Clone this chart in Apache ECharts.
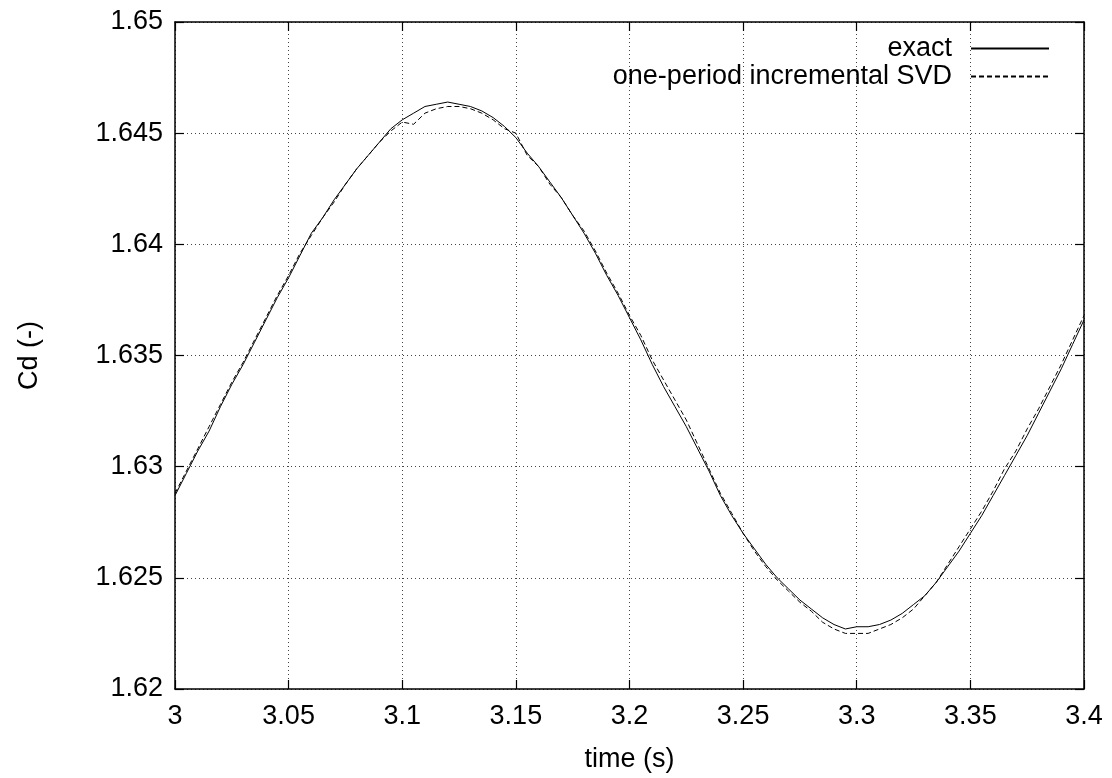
<!DOCTYPE html>
<html>
<head>
<meta charset="utf-8">
<script src="https://cdn.jsdelivr.net/npm/echarts@6/dist/echarts.min.js"></script>
<style>
html,body{margin:0;padding:0;background:#fff;}
#chart{width:1112px;height:778px;}
</style>
</head>
<body>
<div id="chart"></div>
<script>
const times = [3.000,3.005,3.010,3.015,3.020,3.025,3.030,3.035,3.040,3.045,3.050,3.055,3.060,3.065,3.070,3.075,3.080,3.085,3.090,3.095,
3.100,3.105,3.110,3.115,3.120,3.125,3.130,3.135,3.140,3.145,3.150,3.155,3.160,3.165,3.170,3.175,3.180,3.185,3.190,3.195,
3.200,3.205,3.210,3.215,3.220,3.225,3.230,3.235,3.240,3.245,3.250,3.255,3.260,3.265,3.270,3.275,3.280,3.285,3.290,3.295,
3.300,3.305,3.310,3.315,3.320,3.325,3.330,3.335,3.340,3.345,3.350,3.355,3.360,3.365,3.370,3.375,3.380,3.385,3.390,3.395,3.400];

const cdExact = [1.6287,1.6297,1.6307,1.6316,1.6327,1.6337,1.6346,1.6356,1.6366,1.6376,1.6385,1.6395,1.6405,1.6412,1.6420,1.6427,1.6434,1.6440,1.6446,1.6452,
1.6456,1.6459,1.6462,1.6463,1.6464,1.6463,1.6462,1.6460,1.6457,1.6453,1.6448,1.6441,1.6435,1.6428,1.6421,1.6413,1.6405,1.6396,1.6386,1.6377,
1.6367,1.6357,1.6346,1.6336,1.6327,1.6318,1.6308,1.6298,1.6287,1.6278,1.6270,1.6263,1.6256,1.6250,1.6245,1.6240,1.6236,1.6232,1.6229,1.6227,
1.6228,1.6228,1.6229,1.6231,1.6234,1.6238,1.6242,1.6248,1.6255,1.6262,1.6270,1.6278,1.6287,1.6296,1.6305,1.6314,1.6324,1.6334,1.6344,1.6355,1.6366];

const cdSvd = [1.6288,1.6298,1.6308,1.6318,1.6328,1.6338,1.6347,1.6357,1.6367,1.6377,1.6386,1.6396,1.6404,1.6412,1.6419,1.6427,1.6434,1.6440,1.6446,1.6451,
1.6455,1.6454,1.6459,1.6461,1.6462,1.6462,1.6461,1.6459,1.6456,1.6452,1.6450,1.6440,1.6435,1.6427,1.6421,1.6413,1.6406,1.6397,1.6387,1.6378,
1.6368,1.6359,1.6348,1.6339,1.6330,1.6321,1.6310,1.6299,1.6288,1.6279,1.6270,1.6262,1.6255,1.6249,1.6244,1.6239,1.6235,1.6230,1.6227,1.6225,
1.6225,1.6225,1.6227,1.6229,1.6232,1.6236,1.6242,1.6248,1.6256,1.6264,1.6272,1.6280,1.6289,1.6299,1.6307,1.6317,1.6326,1.6336,1.6346,1.6357,1.6368];

const seriesNames = ['exact', 'one-period incremental SVD'];
const xTitle = 'time (s)';
const yTitle = 'Cd (-)';

const FONT = 'Liberation Sans';
const FS = 27;
const chart = echarts.init(document.getElementById('chart'), null, {renderer:'canvas'});

const pairs = (xs, ys) => xs.map((x, i) => [x, ys[i]]);

const gridLine = {show:true, lineStyle:{color:'#444', type:[1,3], width:1}};
const axLine = {show:true, onZero:false, lineStyle:{color:'#000', width:1.5}};
const tick = {show:true, inside:true, length:9, lineStyle:{color:'#000', width:1.2}};
const legendText = {fontFamily:FONT, fontSize:FS, color:'#000', padding:[0,14,0,0]};

const option = {
  animation:false,
  backgroundColor:'#fff',
  grid:{left:175, right:28, top:22, bottom:89, containLabel:false},
  legend:[
    {data:[seriesNames[0]], right:57, top:30, orient:'vertical', align:'right', itemWidth:78, itemHeight:12,
     itemStyle:{opacity:0}, textStyle:legendText},
    {data:[seriesNames[1]], right:57, top:58, orient:'vertical', align:'right', itemWidth:78, itemHeight:12,
     itemStyle:{opacity:0}, textStyle:legendText}
  ],
  xAxis:[
    {type:'value', min:3, max:3.4, interval:0.05, position:'bottom',
     name:xTitle, nameLocation:'middle', nameGap:57,
     nameTextStyle:{fontFamily:FONT, fontSize:FS, color:'#000'},
     axisLine:axLine, axisTick:tick, splitLine:gridLine,
     axisLabel:{fontFamily:FONT, fontSize:FS, color:'#000', margin:14}},
    {type:'value', min:3, max:3.4, interval:0.05, position:'top',
     axisLine:axLine, axisTick:tick, splitLine:{show:false}, axisLabel:{show:false}}
  ],
  yAxis:[
    {type:'value', min:1.62, max:1.65, interval:0.005, position:'left',
     name:yTitle, nameLocation:'middle', nameGap:132, nameRotate:90,
     nameTextStyle:{fontFamily:FONT, fontSize:FS, color:'#000'},
     axisLine:axLine, axisTick:tick, splitLine:gridLine,
     axisLabel:{fontFamily:FONT, fontSize:FS, color:'#000', margin:12}},
    {type:'value', min:1.62, max:1.65, interval:0.005, position:'right',
     axisLine:axLine, axisTick:tick, splitLine:{show:false}, axisLabel:{show:false}}
  ],
  series:[
    {name:seriesNames[0], type:'line', data:pairs(times, cdExact), showSymbol:false, symbol:'none',
     lineStyle:{color:'#000', width:1}, itemStyle:{color:'#000'}, z:3},
    {name:seriesNames[1], type:'line', data:pairs(times, cdSvd), showSymbol:false, symbol:'none',
     lineStyle:{color:'#000', width:1, type:[5,3]}, itemStyle:{color:'#000'}, z:2}
  ]
};
chart.setOption(option);
</script>
</body>
</html>
